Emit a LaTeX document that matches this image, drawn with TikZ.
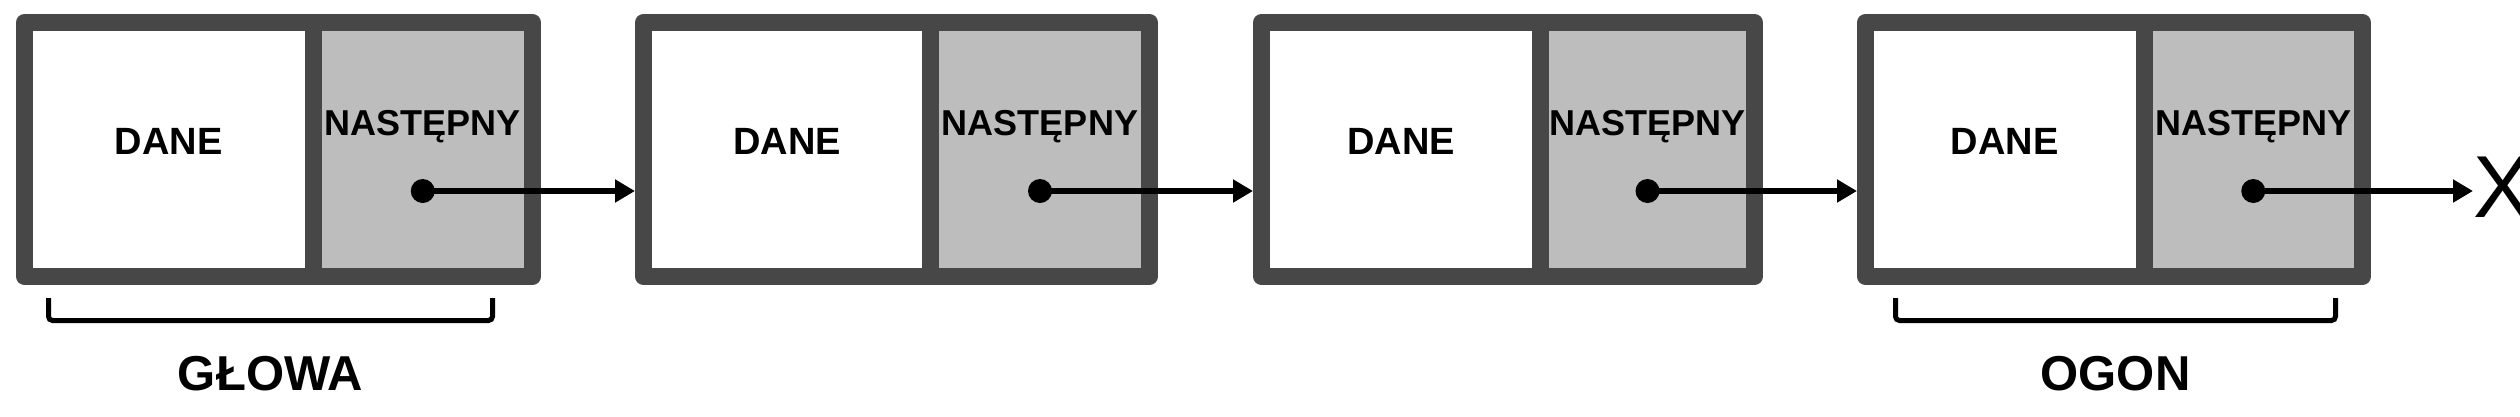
\documentclass[tikz,border=0pt]{standalone}
\usepackage{fontspec}
\setmainfont{Liberation Sans}
\usetikzlibrary{arrows.meta}
\definecolor{frame}{HTML}{474747}
\definecolor{cellgray}{HTML}{BDBDBD}
\begin{document}
\begin{tikzpicture}[x = 1pt, y = -1pt,
    cell/.style = {draw = frame, line width = 17pt, line join = round, minimum height = 254pt, inner sep = 0pt},
    dane/.style = {cell, fill = white},
    nast/.style = {cell, fill = cellgray},
    dot/.style = {circle, fill = black, minimum size = 24pt, inner sep = 0pt},
    ptr/.style = {line width = 6pt, -{Triangle[length = 20pt, width = 22pt]}},
    lbl/.style = {anchor = base, inner sep = 0pt, font = \fontsize{36}{40}\selectfont\bfseries},
    brace/.style = {line width = 5pt, rounded corners = 4pt},
    big/.style = {anchor = base, inner sep = 0pt, font = \fontsize{49}{54}\selectfont\bfseries}]
    \useasboundingbox (0,0) rectangle (2520,416);
    % wezly listy
    \node[dane, minimum width = 288.5pt] (d1) at (168.75,149.5) {};
    \node[nast, minimum width = 219.5pt] (n1) at (422.75,149.5) {};
    \node[dane, minimum width = 287pt] (d2) at (787,149.5) {};
    \node[nast, minimum width = 219pt] (n2) at (1040,149.5) {};
    \node[dane, minimum width = 279pt] (d3) at (1401,149.5) {};
    \node[nast, minimum width = 214pt] (n3) at (1647.5,149.5) {};
    \node[dane, minimum width = 278.5pt] (d4) at (2004.75,149.5) {};
    \node[nast, minimum width = 218.5pt] (n4) at (2253.25,149.5) {};
    \begin{scope}[every node/.append style = {lbl}]
        \begin{scope}[every node/.append style = {font = \fontsize{38}{42}\selectfont\bfseries}]
            \node at (d1.center |- 0,154) {DANE};
            \node at (d2.center |- 0,154) {DANE};
            \node at (d3.center |- 0,154) {DANE};
            \node at (d4.center |- 0,154) {DANE};
        \end{scope}
        \node at (n1.center |- 0,135) {NASTĘPNY};
        \node at (n2.center |- 0,135) {NASTĘPNY};
        \node at (n3.center |- 0,135) {NASTĘPNY};
        \node at (n4.center |- 0,135) {NASTĘPNY};
    \end{scope}
    % wskazniki
    \node[dot] (p1) at (n1.center |- 0,191) {};
    \node[dot] (p2) at (n2.center |- 0,191) {};
    \node[dot] (p3) at (n3.center |- 0,191) {};
    \node[dot] (p4) at (n4.center |- 0,191) {};
    \node[anchor = west, inner sep = 0pt, font = \fontsize{88}{90}\selectfont] (nil) at (2473,187) {X};
    \draw[ptr] (p1.center) -- (p1 -| d2.west);
    \draw[ptr] (p2.center) -- (p2 -| d3.west);
    \draw[ptr] (p3.center) -- (p3 -| d4.west);
    \draw[ptr] (p4.center) -- (p4 -| nil.west);
    % glowa i ogon
    \draw[brace] (48.5,298) -- (48.5,320.5) -- (492.5,320.5) -- (492.5,298);
    \draw[brace] (1895.5,298) -- (1895.5,320.5) -- (2335.5,320.5) -- (2335.5,298);
    \node[big] (glowa) at (270.5,390) {GŁOWA};
    \node[big] (ogon) at (2115.5,390) {OGON};
\end{tikzpicture}
\end{document}
